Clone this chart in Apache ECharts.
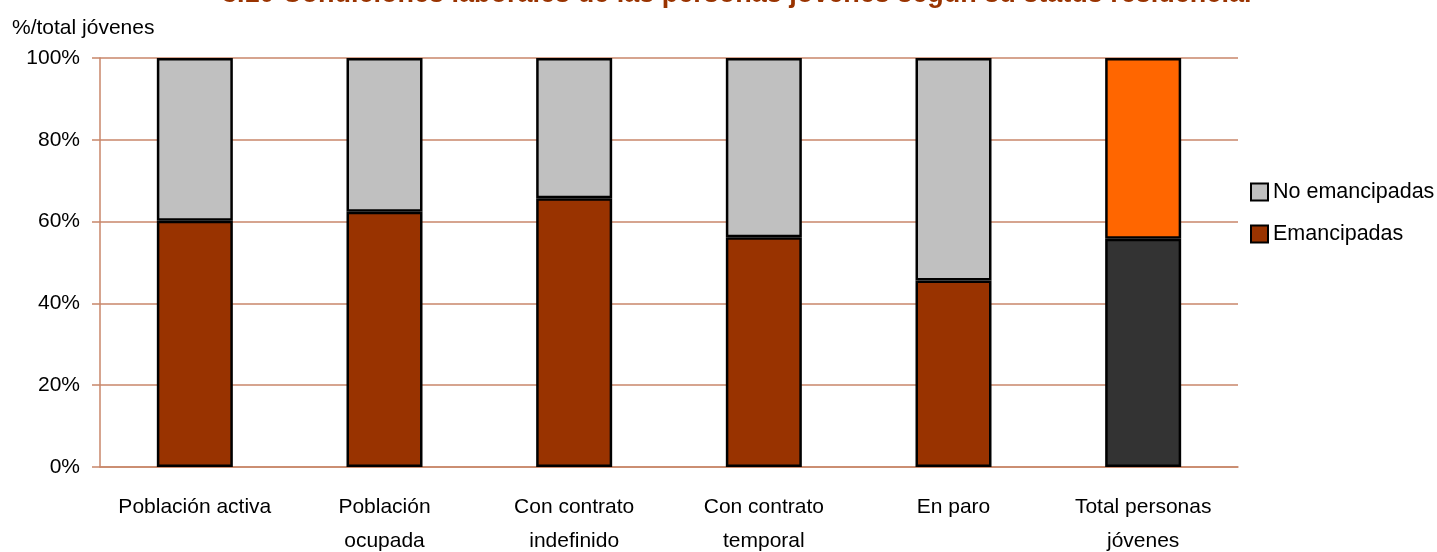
<!DOCTYPE html>
<html>
<head>
<meta charset="utf-8">
<script src="https://cdn.jsdelivr.net/npm/echarts@6/dist/echarts.min.js"></script>
<style>
html,body{margin:0;padding:0;background:#fff;}
#chart{width:1437px;height:552px;}
</style>
</head>
<body>
<div id="chart"></div>
<script>
const categories = ['Población activa', 'Población\nocupada', 'Con contrato\nindefinido', 'Con contrato\ntemporal', 'En paro', 'Total personas\njóvenes'];
const emancipadas = [60.2, 62.4, 65.7, 56.2, 45.6, 55.8];
const noEmancipadas = [39.8, 37.6, 34.3, 43.8, 54.4, 44.2];
const yTicks = [0, 20, 40, 60, 80, 100];

const font = 'Liberation Sans, Arial, sans-serif';
const lineColor = '#C8866A';

const chart = echarts.init(document.getElementById('chart'));
const lastIdx = categories.length - 1;

chart.setOption({
  animation: false,
  backgroundColor: '#ffffff',
  title: [
    {
      text: '3.10 Condiciones laborales de las personas jóvenes según su status residencial',
      left: 217, top: -24,
      textStyle: {fontFamily: font, fontSize: 27, fontWeight: 'bold', color: '#993300'}
    },
    {
      text: '%/total jóvenes',
      left: 7, top: 13,
      textStyle: {fontFamily: font, fontSize: 21, fontWeight: 'normal', color: '#000'}
    }
  ],
  legend: {
    orient: 'vertical',
    left: 1245, top: 176,
    itemWidth: 17, itemHeight: 17, itemGap: 20,
    icon: 'rect',
    textStyle: {fontFamily: font, fontSize: 21.5, color: '#000', padding: [0,0,0,0]},
    data: ['No emancipadas', 'Emancipadas']
  },
  grid: {left: 100, right: 199, top: 58, bottom: 85, containLabel: false, outerBoundsMode: 'none'},
  xAxis: {
    type: 'category',
    data: categories,
    axisLine: {show: true, lineStyle: {color: lineColor, width: 1.5}},
    axisTick: {show: false},
    axisLabel: {fontFamily: font, fontSize: 21, color: '#000', margin: 23, lineHeight: 34, interval: 0}
  },
  yAxis: {
    type: 'value',
    min: 0, max: 100, interval: 20,
    axisLine: {show: true, lineStyle: {color: lineColor, width: 1.5}},
    axisTick: {show: true, inside: false, length: 8, lineStyle: {color: lineColor, width: 1.5}},
    splitLine: {show: true, lineStyle: {color: lineColor, width: 1.5}},
    axisLabel: {fontFamily: font, fontSize: 21, color: '#000', margin: 20,
      formatter: v => yTicks.includes(v) ? v + '%' : ''}
  },
  series: [
    {
      name: 'Emancipadas',
      type: 'bar', stack: 'a', barWidth: 76,
      itemStyle: {color: '#993300', borderColor: '#000', borderWidth: 2.5},
      data: emancipadas.map((v, i) => i === lastIdx ? {value: v, itemStyle: {color: '#333333'}} : v)
    },
    {
      name: 'No emancipadas',
      type: 'bar', stack: 'a', barWidth: 76,
      itemStyle: {color: '#C0C0C0', borderColor: '#000', borderWidth: 2.5},
      data: noEmancipadas.map((v, i) => i === lastIdx ? {value: v, itemStyle: {color: '#FF6600'}} : v)
    }
  ]
});
</script>
</body>
</html>
